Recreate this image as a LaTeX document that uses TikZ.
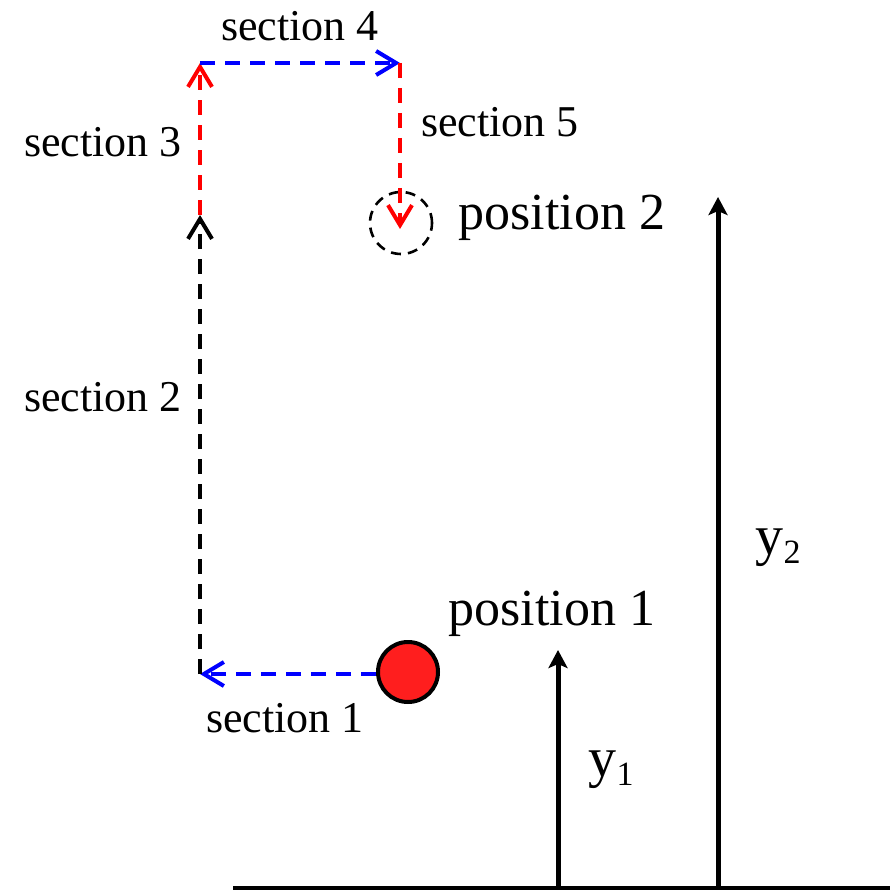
\documentclass[tikz,border=0pt]{standalone}
\usepackage{fontspec}
\setmainfont{Liberation Serif}
\usetikzlibrary{arrows.meta}
\definecolor{pathred}{RGB}{255,0,0}
\definecolor{pathblue}{RGB}{0,0,255}
\definecolor{ballred}{RGB}{255,30,30}
\tikzset{
  seg/.style={line width=2pt, dash pattern=on 7.5pt off 5pt, -{Straight Barb[length=10pt,width=12pt,line width=2pt]}},
  seclabel/.style={font=\fontsize{22}{24}\selectfont, inner sep=0pt},
  poslabel/.style={font=\fontsize{26}{28}\selectfont, inner sep=0pt},
  ylabel/.style={font=\fontsize{28}{30}\selectfont, inner sep=0pt},
  height/.style={line width=2.5pt, -{Stealth[length=9pt,width=9.5pt,inset=2pt]}},
}
\newcommand{\ysub}[1]{y\raisebox{-0.35ex}{\fontsize{17}{19}\selectfont #1}}
\begin{document}
\begin{tikzpicture}[x=0.5pt,y=-0.5pt]
\useasboundingbox (0,0) rectangle (890,893);
% ground
\coordinate (gl) at (233,888);
\coordinate (gr) at (890,888);
\draw[line width=2.2pt] (gl) -- (gr);
% heights
\coordinate (b1) at (558,888);
\coordinate (t1) at (558,650);
\coordinate (b2) at (718,888);
\coordinate (t2) at (718,197);
\draw[height] (b1) -- (t1);
\draw[height] (b2) -- (t2);
\node[ylabel] (y1) at (611,770) {\ysub{1}};
\node[ylabel] (y2) at (778,548) {\ysub{2}};
% positions
\node[circle, draw=black, line width=2pt, fill=ballred, minimum size=30pt, inner sep=0pt] (pos1) at (408,672) {};
\node[circle, draw=black, line width=1.3pt, dash pattern=on 5pt off 3.5pt, minimum size=31pt, inner sep=0pt] (pos2) at (401,223) {};
\node[poslabel] (p1) at (552,614) {position 1};
\node[poslabel] (p2) at (562,218) {position 2};
% path corners
\coordinate (c1) at (200,674);
\coordinate (c2) at (200,215);
\coordinate (c3) at (200,63);
\coordinate (c4) at (400,63);
\coordinate (c5) at (400,229);
\draw[seg, pathblue] (pos1.west |- c1) -- (c1);
\draw[seg, black] (c1) -- (c2);
\draw[seg, pathred] (c2) -- (c3);
\draw[seg, pathblue] (c3) -- (c4);
\draw[seg, pathred] (c4) -- (c5);
% section labels
\node[seclabel] (s1) at (285,718) {section 1};
\node[seclabel] (s2) at (103,397) {section 2};
\node[seclabel] (s3) at (103,142) {section 3};
\node[seclabel] (s4) at (300,26) {section 4};
\node[seclabel] (s5) at (500,122) {section 5};
\end{tikzpicture}
\end{document}
